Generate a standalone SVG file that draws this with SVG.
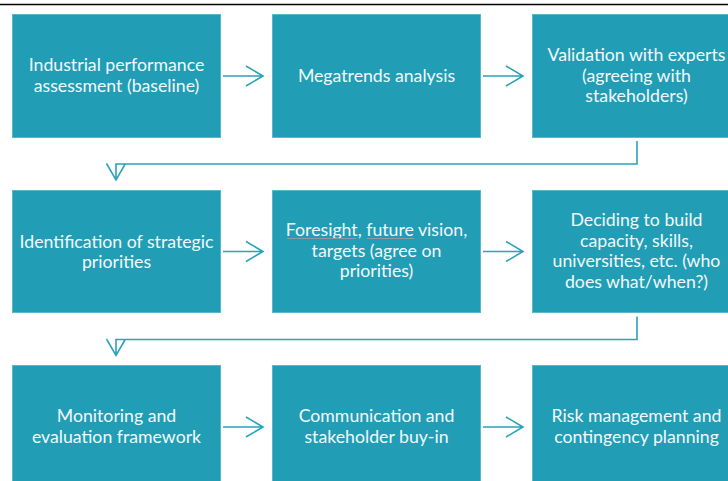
<svg xmlns="http://www.w3.org/2000/svg" width="728" height="481" viewBox="0 0 728 481">
  <style>
    .box { fill: #219eb5; stroke: #5ab8ca; stroke-width: 1; }
    .lbl { font-family: "Lato", "Liberation Sans", sans-serif; font-size: 17.7px; fill: #f3f9fb; text-anchor: middle; }
    .link { fill: none; stroke: #2ba3ba; stroke-width: 1.6; }
    .squig { fill: none; stroke: #8c9aa3; stroke-width: 1; }
  </style>

  <!-- rule across the top -->
  <line x1="0" y1="4.5" x2="728" y2="4.5" stroke="#000" stroke-width="1.5"/>

  <!-- row 1 -->
  <g id="n1">
    <rect class="box" x="12.5" y="14.5" width="208" height="123"/>
    <text class="lbl" x="116.5" y="71">Industrial performance</text>
    <text class="lbl" x="116.5" y="91.7">assessment (baseline)</text>
  </g>
  <g id="n2">
    <rect class="box" x="272.5" y="14.5" width="208" height="123"/>
    <text class="lbl" x="376.5" y="81.5">Megatrends analysis</text>
  </g>
  <g id="n3">
    <rect class="box" x="532.5" y="14.5" width="208" height="123"/>
    <text class="lbl" x="636.5" y="61">Validation with experts</text>
    <text class="lbl" x="636.5" y="81.7">(agreeing with</text>
    <text class="lbl" x="636.5" y="102.4">stakeholders)</text>
  </g>

  <!-- row 2 -->
  <g id="n4">
    <rect class="box" x="12.5" y="190.5" width="208" height="122"/>
    <text class="lbl" x="116.5" y="247.7">Identification of strategic</text>
    <text class="lbl" x="116.5" y="268.4">priorities</text>
  </g>
  <g id="n5">
    <rect class="box" x="272.5" y="190.5" width="208" height="122"/>
    <text class="lbl" x="376.5" y="236">Foresight, future vision,</text>
    <text class="lbl" x="376.5" y="256.7">targets (agree on</text>
    <text class="lbl" x="376.5" y="277.4">priorities)</text>
    <line class="squig" x1="287" y1="238.5" x2="356" y2="238.5"/>
    <line class="squig" x1="367" y1="238.5" x2="414" y2="238.5"/>
  </g>
  <g id="n6">
    <rect class="box" x="532.5" y="190.5" width="208" height="122"/>
    <text class="lbl" x="636.5" y="225.7">Deciding to build</text>
    <text class="lbl" x="636.5" y="246.6">capacity, skills,</text>
    <text class="lbl" x="636.5" y="267.3">universities, etc. (who</text>
    <text class="lbl" x="636.5" y="288.2">does what/when?)</text>
  </g>

  <!-- row 3 -->
  <g id="n7">
    <rect class="box" x="12.5" y="365.5" width="208" height="124"/>
    <text class="lbl" x="116.5" y="421.7">Monitoring and</text>
    <text class="lbl" x="116.5" y="442.5">evaluation framework</text>
  </g>
  <g id="n8">
    <rect class="box" x="272.5" y="365.5" width="208" height="124"/>
    <text class="lbl" x="376.5" y="421.7">Communication and</text>
    <text class="lbl" x="376.5" y="442.5">stakeholder buy-in</text>
  </g>
  <g id="n9">
    <rect class="box" x="532.5" y="365.5" width="208" height="124"/>
    <text class="lbl" x="636.5" y="421.7">Risk management and</text>
    <text class="lbl" x="636.5" y="442.5">contingency planning</text>
  </g>

  <!-- connectors -->
  <g id="connectors">
    <!-- row 1 -->
    <path class="link" d="M223,76 H263 M246,66 L263,76 L246,86"/>
    <path class="link" d="M483,76 H523 M506,66 L523,76 L506,86"/>
    <!-- row 1 to row 2 -->
    <path class="link" d="M637,141 V164 H116 V180 M106.5,163.5 L116,180 L125.5,163.5"/>
    <!-- row 2 -->
    <path class="link" d="M223,251.5 H263 M246,241.5 L263,251.5 L246,261.5"/>
    <path class="link" d="M483,251.5 H523 M506,241.5 L523,251.5 L506,261.5"/>
    <!-- row 2 to row 3 -->
    <path class="link" d="M637,316.5 V339.5 H116 V355.5 M106.5,339 L116,355.5 L125.5,339"/>
    <!-- row 3 -->
    <path class="link" d="M223,427 H263 M246,417 L263,427 L246,437"/>
    <path class="link" d="M483,427 H523 M506,417 L523,427 L506,437"/>
  </g>
</svg>
